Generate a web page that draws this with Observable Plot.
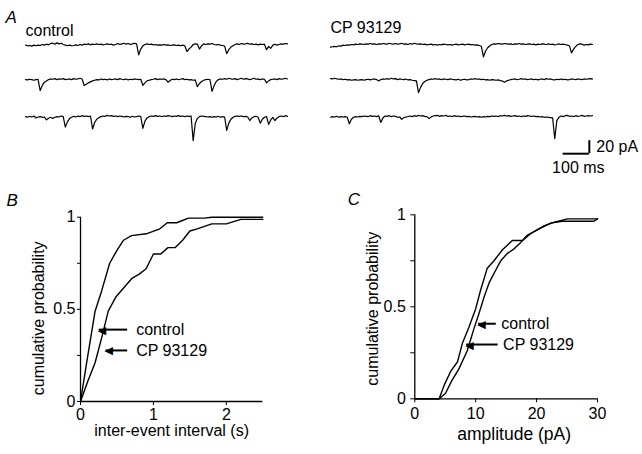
<!DOCTYPE html>
<html><head><meta charset="utf-8">
<script src="https://cdn.jsdelivr.net/npm/d3@7"></script>
<script src="https://cdn.jsdelivr.net/npm/@observablehq/plot@0.6"></script>
<style>
body{margin:0;background:#fff;}
#fig{position:relative;width:642px;height:454px;overflow:hidden;background:#fff;}
#fig svg{position:absolute;}
</style></head><body><div id="fig"></div>
<script>
// ---------- Panel A: example current traces (pA), sampled every 8 ms over 1 s ----------
const sampleInterval = 8; // ms
const conditions = ["control", "CP 93129"];
const control1 = [-1,-2,-1.5,-2.5,-1,-2,-1,-1.5,0,-1,0.5,-0.5,1.5,2,0.5,2.5,1,2,0,-1,-2,-1,-2,-1.5,-0.5,-1.5,0,-1,0.5,0,1,-0.5,0.5,0,1,0,0.5,-0.5,0,1,0,0.5,-1,0,1.5,0,1,2,0.5,1.5,0,1,2,1,-16,-7,-2,0,1,0,0.5,-0.5,0,-1,-0.5,-1,0,-1,-0.5,-1.5,-1,-0.5,-1.5,-1,-2,-1,-2,-11,-7,-4,0,1,0.5,-7,-2,1,0,1,0.5,1.5,0,-0.5,0,-1,-1.5,-2.5,-14,-8,-4,-2,0,1,0,1.5,0.5,1,2,0.5,1,0,0.5,-0.5,0.5,0,0.5,-8,-3,-6,-1,0.5,-1,0,1,0.5,1.5,1];
const control2 = [0,-0.5,0.5,0,-1,0,0.5,-17,-9,-4,-2,0,1,0.5,1.5,0,1,0.5,1.5,0,0.5,1,0,1.5,0.5,1,2,1,-9,-7,-5,-3.5,-2,-1,0,-0.5,1,0,0.5,-0.5,1,0,0.5,1,0,1.5,0.5,0,1,-0.5,0.5,0,1,0.5,0,0.5,-9,-5,-2,-1,0,0.5,1.5,0,1,0.5,1,0,-4,-1.5,0.5,0,1,0,0.5,1.5,0,0.5,-0.5,0,-1,-0.5,-11,-6,-3,-1,0,0.5,0,-18,-9,-3,0,1,0.5,1.5,0.5,2,1,0.5,1.5,0,1,2,0.5,1.5,1,0,1,2,0.5,1,0,1,0.5,-5,-2,0,0.5,1,0,1.5,0.5,1,2,1];
const control3 = [0,-1,0.5,-0.5,1,-2,-0.5,0,-1,-0.5,-5,-2.5,-1,-3,-1,0,-0.5,1,0,-16,-8,-3,-1,0.5,-0.5,1,0,1.5,0.5,1,0,1,-19,-9,-4,-1.5,0,1,0.5,2,1,1.5,0.5,1,0,1,0.5,-0.5,0.5,0,-1,0.5,-0.5,0,1,0,-18,-7,-2,0,1,0.5,1.5,0.5,1,0,1,0.5,1.5,1,0,1,0.5,1.5,0.5,1,0,1,0.5,1,-37,-10,-3,0,1,0.5,0,-0.5,0,-1,0,-0.5,0.5,-1,0,-0.5,-21,-10,-4,-1,0.5,1,0.5,1,0,0.5,-0.5,-6,-2,0,0.5,-1,-10,-4,-1,0,-12,-5,-1,-6,-2,0,1,0,1.5,0.5];
const cp1 = [-4,-3.5,-3,-3.5,-2,-2.5,-1,-1.5,-0.5,-1,0,-0.5,0.5,0,1,0.5,0,1,0.5,1.5,0.5,1,0,1,0.5,1.5,1,0.5,2,1,0.5,1.5,0.5,1,2,0.5,1,0,1.5,0.5,2,1,0.5,1,0,0.5,-0.5,0,0.5,-0.5,0,-1,0,-0.5,0.5,0,-0.5,0,-1,0,0.5,-0.5,0,0.5,-0.5,0,0.5,-0.5,0,-1,-0.5,-1.5,-3,-19,-10,-5,-2,0,1,0.5,1.5,1,0.5,1.5,1,0.5,1,0,1,0.5,1.5,0.5,1,0,0.5,1,0,0.5,-0.5,0.5,0,1,0.5,0,1,0,0.5,-0.5,0,1,0,0.5,0,-1,-2,-13,-7,-3,0,1,0.5,-1,0,-0.5,0.5,0];
const cp2 = [1.5,1,2,1,0.5,1,0,0.5,-0.5,0,-1,-0.5,0,-1,-0.5,0,-1,0,0.5,-0.5,0.5,1,0,-2,0,1,0.5,1.5,0.5,2,1,1.5,0,1,0.5,0,1,-0.5,0,-1,-1.5,-2,-20,-12,-6,-3,-1,0,1,0.5,1.5,0.5,1,0,1,0.5,0,1,0.5,0,-0.5,0.5,-1,0,0.5,-0.5,0,1,0.5,1.5,0.5,1,0,0.5,-0.5,0,-1,0,-0.5,-1,-0.5,-1.5,-2,-4,-2,-1,0,0.5,1,0,0.5,1.5,0.5,1,0,0.5,1,0,0.5,-0.5,0.5,1,0,1.5,0.5,1,0,-0.5,0.5,0,1,0,0.5,-0.5,0,1,0.5,0,1,0.5,0,1,0.5,1,1.5,1];
const cp3 = [-1,0,-0.5,0.5,-1,0,-0.5,0,-1,-11,-4,-1,0,-0.5,0.5,0,1,0.5,0,1.5,0.5,1,0,1.5,-9,-2,1,0.5,1.5,0,1,0.5,-1,-0.5,-4,-1.5,-0.5,0,1,0,1.5,0.5,2,1,1.5,0.5,0,-3,-0.5,1,1.5,2,0.5,1.5,1,2,0.5,1,0,1.5,0.5,1,0,0.5,1,0,0.5,-0.5,0,0.5,-0.5,0,-1,0,-0.5,0.5,0,1,0.5,1,0,1.5,1,2,1,1.5,0.5,1,1.5,0.5,1,0,1,0.5,1.5,1,0.5,1,0,0.5,-0.5,0,-1,-0.5,-1,-1.5,-2,-34,-6,-1,1,0,1.5,2,0.5,1,0,1.5,0.5,1,2,0.5,1,1.5,1,1.5];
const scaleBarTime = 100;   // ms
const scaleBarCurrent = 20; // pA

// ---------- Panel B: cumulative inter-event interval ----------
const bIntervalControl = [0,0.08,0.2,0.29,0.4,0.5,0.59,0.7,0.9,1.08,1.19,1.32,1.48,1.7,1.8,2.5];
const bProbControl     = [0,0.2,0.49,0.6,0.75,0.82,0.875,0.9,0.91,0.935,0.97,0.97,0.995,0.995,1.0,1.0];
const bIntervalCp = [0,0.1,0.2,0.3,0.38,0.49,0.6,0.71,0.8,0.9,1.0,1.1,1.2,1.3,1.4,1.5,1.6,1.8,2.0,2.2,2.5];
const bProbCp     = [0,0.11,0.21,0.36,0.49,0.57,0.62,0.67,0.69,0.72,0.80,0.80,0.835,0.835,0.875,0.925,0.937,0.964,0.964,0.988,0.988];
const bArrowTip  = [0.25, 0.343];
const bArrowTail = [0.64, 0.64];
const bArrowProb = [0.39, 0.277];
const bXTicks = [0, 1, 2];

// ---------- Panel C: cumulative amplitude ----------
const cAmpControl  = [0,4,5.05,6.1,7.2,8.6,9.7,10.5,11.35,12.2,13.3,14.1,15.2,16.3,17.4,18.5,20.1,22.3,24.2,29.4,30];
const cProbControl = [0,0,0.03,0.1,0.16,0.26,0.38,0.46,0.55,0.63,0.7,0.75,0.79,0.815,0.85,0.89,0.918,0.955,0.965,0.965,0.978];
const cAmpCp  = [0,4,4.9,5.9,7.0,7.8,8.9,10.0,10.8,11.9,13.0,14.4,16.0,17.7,19.0,20.1,21.2,22.9,25.1,30];
const cProbCp = [0,0,0.08,0.15,0.2,0.3,0.39,0.49,0.59,0.71,0.75,0.81,0.86,0.86,0.897,0.918,0.94,0.96,0.978,0.978];
const cArrowTip  = [10.4, 8.43];
const cArrowTail = [13.3, 13.6];
const cArrowProb = [0.408, 0.295];
const cXTicks = [0, 10, 20, 30];

const yTicks = [0, 0.25, 0.5, 0.75, 1];
const yTickLabels = [0, 0.5, 1];

const FONT = "'Liberation Sans', Arial, sans-serif";
const fig = document.getElementById("fig");

// ---------- build panel A ----------
const colOffset = 1164;            // layout: horizontal shift of second column (in ms units)
const rowOffset = [0, -54, -111];  // layout: vertical shift of rows (in pA units)
const traceSets = [[control1, control2, control3], [cp1, cp2, cp3]];
const traceData = traceSets.flatMap((rows, c) => rows.flatMap((vals, r) =>
  vals.map((v, i) => ({t: i * sampleInterval + c * colOffset, v: v + rowOffset[r], key: c + "-" + r}))));
const barEnd = colOffset + 988, barY = -168;

const pa = Plot.plot({
  width: 642, height: 180, margin: 0,
  style: {fontFamily: FONT, fontSize: "16px", color: "black", background: "white"},
  x: {domain: [0, 1000], range: [25, 287], axis: null},
  y: {domain: [0, -100], range: [44, 109], axis: null},
  marks: [
    Plot.line(traceData, {x: "t", y: "v", z: "key", stroke: "black", strokeWidth: 1.2}),
    Plot.ruleY([barY], {x1: barEnd - scaleBarTime, x2: barEnd, stroke: "black", strokeWidth: 2}),
    Plot.ruleX([barEnd], {y1: barY, y2: barY + scaleBarCurrent, stroke: "black", strokeWidth: 2}),
    Plot.text([scaleBarCurrent + " pA"], {x: barEnd, y: barY + scaleBarCurrent / 2, textAnchor: "start", lineAnchor: "middle", dx: 7, fontSize: 16}),
    Plot.text([scaleBarTime + " ms"], {x: barEnd - scaleBarTime, y: barY, textAnchor: "start", lineAnchor: "middle", dx: -11, dy: 14.5, fontSize: 16}),
    Plot.text([conditions[0]], {x: 0, y: 0, textAnchor: "start", lineAnchor: "middle", dy: -14, fontSize: 16}),
    Plot.text([conditions[1]], {x: colOffset, y: 0, textAnchor: "start", lineAnchor: "middle", dy: -16.4, fontSize: 16}),
    Plot.text(["A"], {frameAnchor: "top-left", textAnchor: "start", lineAnchor: "middle", dx: 5, dy: 17.3, fontStyle: "italic", fontSize: 17})
  ]
});
pa.style.left = "0px"; pa.style.top = "0px";
fig.appendChild(pa);

// ---------- generic cumulative panel ----------
function cumPanel(o) {
  const curves = [
    ...o.x1.map((x, i) => ({x, y: o.y1[i], k: 0})),
    ...o.x2.map((x, i) => ({x, y: o.y2[i], k: 1}))
  ];
  const arrows = conditions.map((label, i) => ({label, tip: o.tip[i], tail: o.tail[i], y: o.ay[i]}));
  const x0 = o.xdomain[0];
  const svg = Plot.plot({
    width: o.width, height: 274,
    marginLeft: o.ml, marginRight: o.mr, marginTop: o.mt, marginBottom: o.mb,
    style: {fontFamily: FONT, fontSize: "16px", color: "black", background: "white", overflow: "visible"},
    x: {domain: o.xdomain, ticks: o.xticks, tickFormat: () => "", tickSize: 4, label: null},
    y: {domain: [0, 1], ticks: yTicks, tickFormat: () => "", tickSize: o.ytick, label: null},
    marks: [
      Plot.ruleX([x0], {y1: 0, y2: 1, stroke: "black", strokeWidth: 1.3}),
      Plot.ruleY([0], {x1: x0, x2: o.xdomain[1], stroke: "black", strokeWidth: 1.3}),
      // tick labels
      Plot.text(o.xticks, {x: d => d, y: 0, text: d => String(d), textAnchor: "middle", lineAnchor: "top", dy: o.xpad, fontSize: 16}),
      Plot.text(yTickLabels, {x: x0, y: d => d, text: d => String(d), textAnchor: "end", lineAnchor: "middle", dx: -o.ypad, fontSize: 16}),
      Plot.line(curves, {x: "x", y: "y", z: "k", stroke: "black", strokeWidth: 1.4}),
      Plot.link(arrows, {x1: "tail", x2: "tip", y1: "y", y2: "y", stroke: "black", strokeWidth: 2}),
      Plot.text(arrows, {x: "tip", y: "y", text: () => "\u25C0", textAnchor: "start", lineAnchor: "middle", dx: -1, dy: 0.5, fontSize: 11, fontFamily: "DejaVu Sans"}),
      Plot.text(arrows, {x: "tail", y: "y", text: "label", textAnchor: "start", lineAnchor: "middle", dx: o.labdx, fontSize: 16}),
      Plot.text(["cumulative probability"], {frameAnchor: "left", textAnchor: "middle", lineAnchor: "middle", rotate: -90, dx: o.ylabdx, dy: o.ylabdy, fontSize: 16}),
      Plot.text([o.xlabel], {frameAnchor: "bottom", textAnchor: "middle", lineAnchor: "middle", dx: o.xlabdx, dy: o.xlabdy, fontSize: o.xlabfs}),
      Plot.text([o.letter], {frameAnchor: "top-left", textAnchor: "start", lineAnchor: "middle", dx: o.ldx, dy: o.ldy, fontStyle: "italic", fontSize: 17})
    ]
  });
  svg.style.left = o.left + "px"; svg.style.top = "180px";
  fig.appendChild(svg);
}

cumPanel({
  width: 320, left: 0, ml: 80, mr: 57.7, mt: 36.7, mb: 53,
  xdomain: [0, 2.5], xticks: bXTicks, xpad: 7, ytick: 3, ypad: 5,
  x1: bIntervalControl, y1: bProbControl, x2: bIntervalCp, y2: bProbCp,
  tip: bArrowTip, tail: bArrowTail, ay: bArrowProb, labdx: 9,
  xlabel: "inter-event interval (s)", xlabdx: 0, xlabdy: 29, xlabfs: 16,
  ylabdx: -42, ylabdy: 9, letter: "B", ldx: -74, ldy: -17
});
cumPanel({
  width: 322, left: 320, ml: 94.3, mr: 45, mt: 34.3, mb: 55.7,
  xdomain: [0, 30], xticks: cXTicks, xpad: 8.4, ytick: 4, ypad: 9,
  x1: cAmpControl, y1: cProbControl, x2: cAmpCp, y2: cProbCp,
  tip: cArrowTip, tail: cArrowTail, ay: cArrowProb, labdx: 5.5,
  xlabel: "amplitude (pA)", xlabdx: 8, xlabdy: 36, xlabfs: 17.5,
  ylabdx: -42, ylabdy: 2, letter: "C", ldx: -67, ldy: -15.3
});
</script></body></html>
